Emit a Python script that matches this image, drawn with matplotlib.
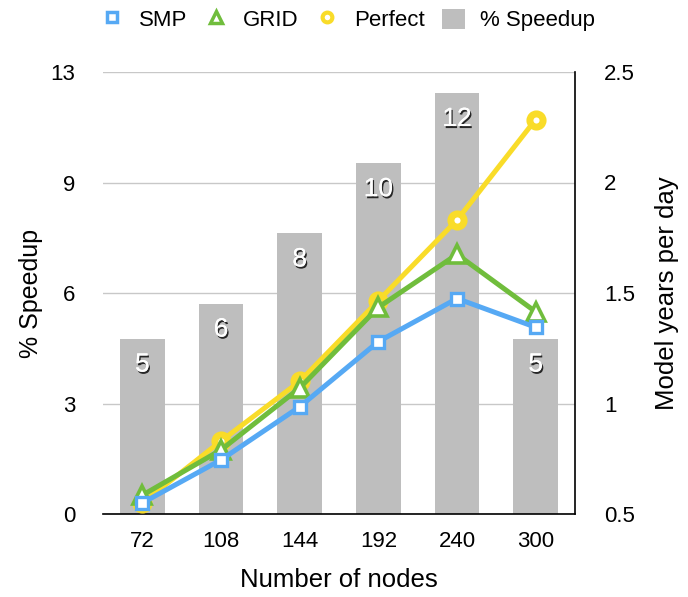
import matplotlib
matplotlib.use("Agg")
import matplotlib.pyplot as plt
import matplotlib.patheffects as pe
from matplotlib.lines import Line2D
from matplotlib.patches import Patch
import numpy as np

plt.rcParams['font.family'] = ['Liberation Sans', 'DejaVu Sans']

nodes = ["72", "108", "144", "192", "240", "300"]
speedup = [5, 6, 8, 10, 12, 5]
smp = [0.55, 0.745, 0.985, 1.28, 1.475, 1.345]
grid = [0.585, 0.79, 1.07, 1.435, 1.675, 1.415]
perfect = [0.55, 0.83, 1.10, 1.465, 1.83, 2.285]
left_ticklabels = ["0", "3", "6", "9", "13"]
right_ticks = [0.5, 1.0, 1.5, 2.0, 2.5]
right_ticklabels = ["0.5", "1", "1.5", "2", "2.5"]

blue = "#56A9F4"
green = "#70BD3C"
yellow = "#F9DC29"
gray = "#BEBEBE"

fig = plt.figure(figsize=(6.88, 5.97), dpi=100)
ax = fig.add_axes([103/688, 1-514/597, 472/688, 442/597])
ax2 = ax.twinx()

x = np.arange(len(nodes))
ax.bar(x, speedup, width=0.57, color=gray, zorder=2)
for xi, v in zip(x, speedup):
    t = ax.text(xi, v - 0.74, str(v), ha="center", va="center", color="white",
                fontsize=19)
    t.set_path_effects([pe.withSimplePatchShadow(offset=(1, -1.5), shadow_rgbFace="black", alpha=0.8),
                        pe.Normal()])

ax.set_ylim(0, 12.6)
ax.set_yticks(np.linspace(0, 12.6, 5))
ax.set_yticklabels(left_ticklabels)
ax.set_xlim(-0.5, len(nodes) - 0.5)
ax.set_xticks(x)
ax.set_xticklabels(nodes)
ax.set_axisbelow(True)
ax.yaxis.grid(True, color="#C8C8C8", linewidth=1)
ax.tick_params(axis="y", length=0, labelsize=16, pad=20)
ax.tick_params(axis="x", length=0, labelsize=16, pad=12)
for s in ["top", "left", "right"]:
    ax.spines[s].set_visible(False)
ax.spines["bottom"].set_color("black")
ax.spines["bottom"].set_linewidth(1.2)
ax.set_ylabel("% Speedup", fontsize=18, labelpad=5)
ax.set_xlabel("Number of nodes", fontsize=18.5, labelpad=12)

ax2.plot(x, perfect, color=yellow, lw=3.6, marker="o", ms=9.5, mfc="white",
         mec=yellow, mew=5, zorder=2)
ax2.plot(x, grid, color=green, lw=3.6, marker="^", ms=13, mfc="white",
         mec=green, mew=2.6, zorder=3)
ax2.plot(x, smp, color=blue, lw=3.6, marker="s", ms=8.5, mfc="white",
         mec=blue, mew=2.4, zorder=4)
ax2.set_ylim(0.5, 2.5)
ax2.set_yticks(right_ticks)
ax2.set_yticklabels(right_ticklabels)
ax2.tick_params(length=0, labelsize=16, pad=21)
for s in ["top", "left", "bottom"]:
    ax2.spines[s].set_visible(False)
ax2.spines["right"].set_color("black")
ax2.spines["right"].set_linewidth(1.2)
ax2.set_ylabel("Model years per day", fontsize=18.5, labelpad=14)

handles = [
    Line2D([], [], ls="none", marker="s", ms=7, mfc="white", mec=blue, mew=2.5),
    Line2D([], [], ls="none", marker="^", ms=9, mfc="white", mec=green, mew=2.5),
    Line2D([], [], ls="none", marker="o", ms=7, mfc="white", mec=yellow, mew=3),
    Patch(facecolor=gray),
]
fig.legend(handles, ["SMP", "GRID", "Perfect", "% Speedup"],
           loc="center", bbox_to_anchor=(0.506, 1 - 20/597), ncol=4, frameon=False,
           fontsize=16, handlelength=1.0, handleheight=1.0, columnspacing=0.8,
           handletextpad=0.7)

fig.savefig("out.png", dpi=100)
